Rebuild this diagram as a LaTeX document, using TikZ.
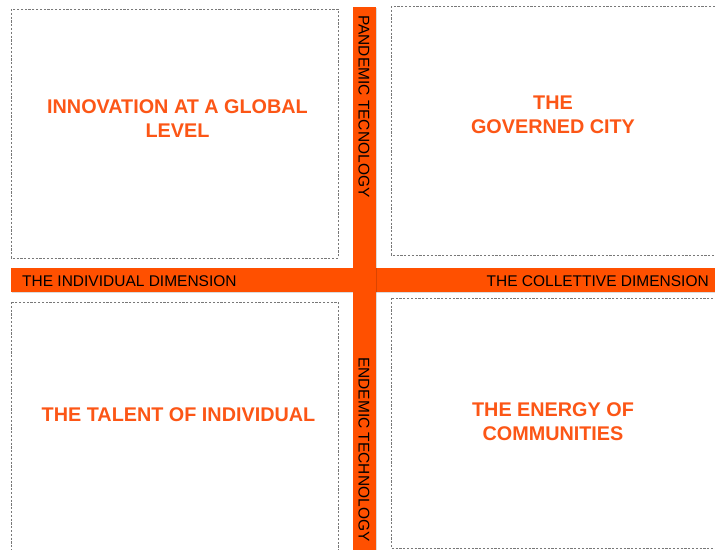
\documentclass[tikz,border=0pt]{standalone}
\usepackage{fontspec}
\setmainfont{Liberation Sans}
\definecolor{barorange}{RGB}{255,80,0}
\definecolor{txtorange}{RGB}{252,86,22}
\definecolor{dashgray}{RGB}{120,120,120}
\begin{document}
\begin{tikzpicture}[x=1pt,y=-1pt,
  quad/.style={draw=dashgray, line width=0.6pt, dash pattern=on 2.2pt off 1.6pt, fill=white},
  bar/.style={fill=barorange, draw=none},
  barshadow/.style={fill=black, fill opacity=0.14, draw=none},
  bartext/.style={font=\fontsize{15.5}{18}\selectfont, text=black, inner sep=0pt},
  qtext/.style={font=\bfseries\fontsize{19.8}{24}\selectfont, text=txtorange, align=center, inner sep=0pt}]
\useasboundingbox (0,0) rectangle (715,549);
\fill[white] (0,0) rectangle (715,549);
% quadrant boxes
\draw[quad] (11,9) rectangle (338,258);
\draw[quad] (391,6) rectangle (722,255);
\draw[quad] (11,302) rectangle (338,552);
\draw[quad] (391,298) rectangle (722,548);
% horizontal bar
\fill[barshadow] (12,269.2) rectangle (717,293.2);
\fill[bar] (11,268) rectangle (716,292);
% vertical bar
\fill[barshadow] (354.2,8) rectangle (377.2,551);
\fill[bar] (353,7) rectangle (376,551);
% bar labels
\node[bartext, anchor=base west] (indiv) at (22,286) {THE INDIVIDUAL DIMENSION};
\node[bartext, anchor=base east] (coll) at (709,286) {THE COLLETTIVE DIMENSION};
\node[bartext, rotate=-90, anchor=west] (pand) at (364,15) {PANDEMIC TECNOLOGY};
\node[bartext, rotate=-90, anchor=west] (endem) at (364,357) {ENDEMIC TECHNOLOGY};
% quadrant labels
\node[qtext] (innov) at (177.5,119) {INNOVATION AT A GLOBAL\\LEVEL};
\node[qtext] (gov) at (553,115) {THE\\GOVERNED CITY};
\node[qtext] (talent) at (178.5,414.5) {THE TALENT OF INDIVIDUAL};
\node[qtext] (energy) at (553,422) {THE ENERGY OF\\COMMUNITIES};
\end{tikzpicture}
\end{document}
